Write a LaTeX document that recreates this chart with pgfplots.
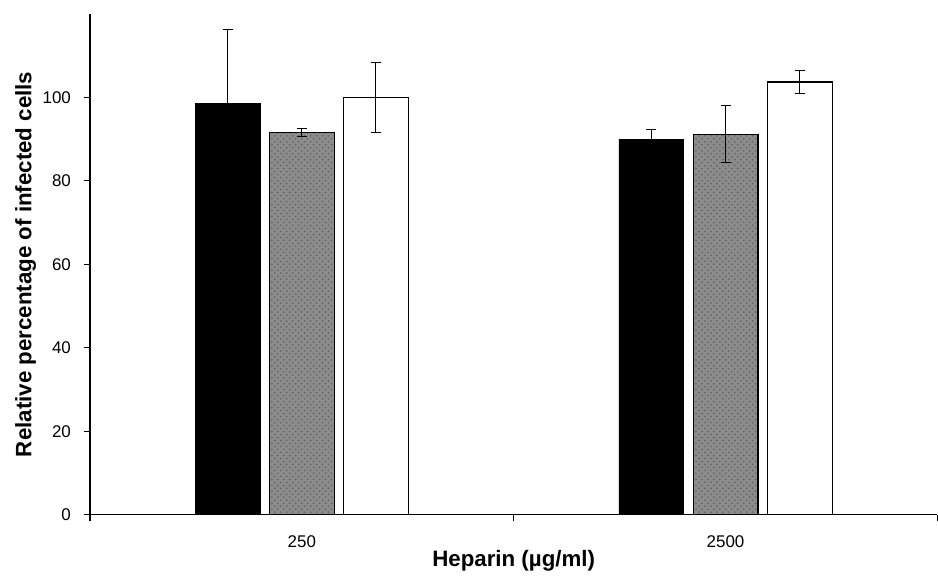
\documentclass[border=0pt]{standalone}
\usepackage{pgfplots}
\pgfplotsset{compat=1.18}
\usepackage{fontspec}
\setmainfont{Liberation Sans}
\usetikzlibrary{patterns}
\begin{document}
\begin{tikzpicture}
\begin{axis}[
  width=424bp, height=250.5bp, scale only axis,
  xmin=0, xmax=2, ymin=0, ymax=120,
  axis lines*=left,
  axis line style={black, line width=0.6bp},
  tick align=outside, major tick length=3bp, minor tick length=3bp,
  tick style={black, line width=0.6bp},
  xtick={0.5,1.5}, xticklabels={250,2500},
  minor xtick={0,1,2},
  major x tick style={draw=none},
  ytick={0,20,...,100},
  /pgf/number format/assume math mode=true,
  ticklabel style={font=\fontsize{8.5}{10}\selectfont},
  xticklabel style={yshift=-4bp},
  yticklabel style={xshift=-3bp},
  label style={font=\fontsize{11.2}{13}\selectfont\bfseries},
  xlabel={Heparin (µg/ml)},
  ylabel={Relative percentage of infected cells},
  xlabel shift=-5.5bp,
  ylabel shift=-3.5bp,
  ybar, bar width=0.153,
  clip=false,
]
\addplot[ybar, bar shift=0pt, fill=black, draw=black,
  error bars/.cd, y dir=both, y explicit,
  error bar style={black, line width=0.5bp},
  error mark options={rotate=90, mark size=2.5bp, line width=0.5bp}]
  coordinates {(0.325,98.6) +- (0,17.6) (1.325,90.0) +- (0,2.4)};
\addplot[ybar, bar shift=0pt, fill=black!45, draw=black, line width=0.6bp,
  postaction={pattern=crosshatch dots, pattern color=black!60},
  error bars/.cd, y dir=both, y explicit,
  error bar style={black, line width=0.5bp},
  error mark options={rotate=90, mark size=2.5bp, line width=0.5bp}]
  coordinates {(0.5,91.6) +- (0,1.0) (1.5,91.2) +- (0,6.8)};
\addplot[ybar, bar shift=0pt, fill=white, draw=black, line width=0.6bp,
  error bars/.cd, y dir=both, y explicit,
  error bar style={black, line width=0.5bp},
  error mark options={rotate=90, mark size=2.5bp, line width=0.5bp}]
  coordinates {(0.675,100.0) +- (0,8.3) (1.675,103.7) +- (0,2.8)};
\path (rel axis cs:0,1) ++(0,7bp);
\path (rel axis cs:0,0.5) ++(-45bp,0);
\end{axis}
\end{tikzpicture}
\end{document}
